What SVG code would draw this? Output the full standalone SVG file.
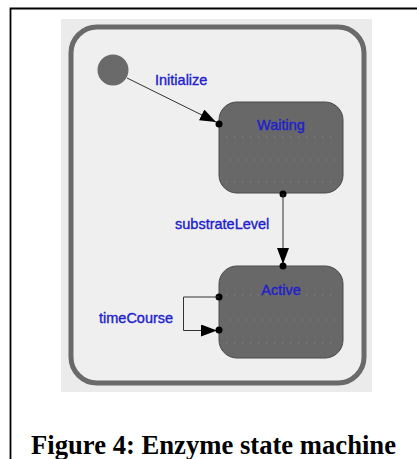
<svg xmlns="http://www.w3.org/2000/svg" width="417" height="459" viewBox="0 0 417 459">
<defs>
<style>
.lbl{font-family:"Liberation Sans",Arial,sans-serif;font-size:14.5px;fill:#2020cc;stroke:#2020cc;stroke-width:0.35}
.st{fill:#686868;stroke:#4a4a4a;stroke-width:1}
.dots{stroke:#9a9a80;stroke-width:1;stroke-dasharray:1 7;opacity:0.7}
.edge{fill:none;stroke:#333;stroke-width:1}
.pin{fill:#000}
</style>
<marker id="ah" viewBox="0 0 16 12" refX="16" refY="6" markerWidth="16" markerHeight="12" markerUnits="userSpaceOnUse" orient="auto">
<path d="M0,0 L16,6 L0,12 Z" fill="#000"/>
</marker>
</defs>
<rect x="0" y="0" width="417" height="459" fill="#fff"/>
<path d="M10.5,459 L10.5,8.5 L417,8.5" fill="none" stroke="#000" stroke-width="1.8"/>
<rect x="61" y="19" width="311" height="373" fill="#ebebeb"/>
<g id="container">
<rect x="71" y="27" width="293" height="356" rx="26" ry="26" fill="#efefef" stroke="#6a6a6a" stroke-width="5"/>
</g>
<g id="initial">
<circle cx="113" cy="70" r="15.5" fill="#6a6a6a"/>
</g>
<g id="waiting">
<rect class="st" x="219" y="102" width="124" height="91" rx="18" ry="18"/>
<line class="dots" x1="226" y1="137" x2="338" y2="137"/>
<line class="dots" x1="230" y1="160" x2="338" y2="160"/>
<line class="dots" x1="226" y1="182" x2="336" y2="182"/>
<text class="lbl" x="281" y="130" text-anchor="middle">Waiting</text>
</g>
<g id="active">
<rect class="st" x="219" y="266" width="124" height="92" rx="18" ry="18"/>
<line class="dots" x1="226" y1="295" x2="338" y2="295"/>
<line class="dots" x1="230" y1="320" x2="338" y2="320"/>
<line class="dots" x1="226" y1="343" x2="336" y2="343"/>
<text class="lbl" x="281" y="295" text-anchor="middle">Active</text>
</g>
<g id="connectors">
<line class="edge" x1="127" y1="78" x2="216" y2="122" marker-end="url(#ah)"/>
<circle class="pin" cx="219" cy="124" r="3.5"/>
<text class="lbl" x="155" y="85">Initialize</text>
<circle class="pin" cx="283" cy="194" r="3.5"/>
<line class="edge" x1="283" y1="194" x2="283" y2="264" marker-end="url(#ah)"/>
<circle class="pin" cx="283" cy="266" r="3.5"/>
<text class="lbl" x="175" y="229">substrateLevel</text>
<circle class="pin" cx="219" cy="297" r="3.5"/>
<polyline class="edge" points="219,297 183.5,297 183.5,330.5 217,330.5" marker-end="url(#ah)"/>
<circle class="pin" cx="219" cy="330" r="3.5"/>
<text class="lbl" x="99" y="323">timeCourse</text>
</g>
<text x="31" y="454" font-family="'Liberation Serif','Times New Roman',serif" font-weight="bold" font-size="26.6" textLength="365" lengthAdjust="spacingAndGlyphs" fill="#000">Figure 4: Enzyme state machine</text>
</svg>
